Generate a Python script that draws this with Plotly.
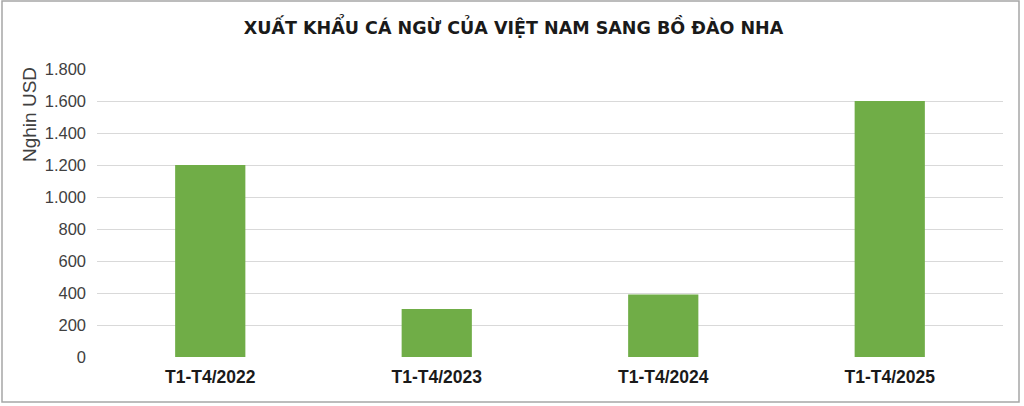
import plotly.graph_objects as go

categories = ["T1-T4/2022", "T1-T4/2023", "T1-T4/2024", "T1-T4/2025"]
values = [1200, 300, 390, 1600]
y_ticks = [0, 200, 400, 600, 800, 1000, 1200, 1400, 1600, 1800]

W, H = 1024, 406
L, R, T, B = 97, 21, 69, 49
pw, ph = W - L - R, H - T - B

def px_x(p):
    return (p - L) / pw

def px_y(p):
    return (H - B - p) / ph

fig = go.Figure(go.Bar(x=categories, y=values, marker=dict(color="#70AD47", line=dict(width=0))))

fig.update_layout(
    width=W, height=H,
    margin=dict(l=L, r=R, t=T, b=B),
    paper_bgcolor="white", plot_bgcolor="white",
    separators=",.",
    bargap=0.69,
    showlegend=False,
    title=dict(text="<b>XUẤT KHẨU CÁ NGỪ CỦA VIỆT NAM SANG BỒ ĐÀO NHA</b>",
               x=px_x(513.5), xref="paper", xanchor="center", y=1 - 28 / H, yanchor="middle",
               font=dict(family="DejaVu Sans", size=17.5, color="#1a1a1a")),
    font=dict(family="Liberation Sans"),
    xaxis=dict(showgrid=False, showline=False, ticks="", ticklabelstandoff=7,
               tickfont=dict(family="Liberation Sans", size=17.5, color="#1a1a1a", weight="bold")),
    yaxis=dict(range=[0, 1800], tickvals=y_ticks, tickformat=",d",
               showgrid=True, gridcolor="#D9D9D9", gridwidth=1, zeroline=False, showline=False,
               ticklabelstandoff=10,
               tickfont=dict(family="Liberation Sans", size=16.5, color="#404040")),
    annotations=[dict(text="Nghin USD", xref="paper", yref="paper",
                      x=px_x(29.5), y=px_y(114.5), xanchor="center", yanchor="middle",
                      textangle=-90, showarrow=False,
                      font=dict(family="Liberation Sans", size=19, color="#404040"))],
    shapes=[dict(type="rect", xref="paper", yref="paper",
                 x0=px_x(2), x1=px_x(1019), y0=px_y(402), y1=px_y(1),
                 line=dict(color="#A6A6A6", width=1.5), fillcolor="rgba(0,0,0,0)", layer="below")],
)

fig.write_html("out.html", config={"displayModeBar": False},
               post_script="document.body.style.margin='0';document.body.style.overflow='hidden';")
